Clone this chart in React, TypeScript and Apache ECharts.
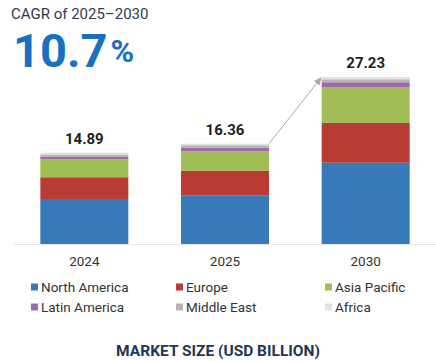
import React, { useEffect, useRef } from "react";
import * as echarts from "echarts";

const years = ["2024", "2025", "2030"];
const northAmerica = [7.32, 7.86, 13.23];
const europe = [3.58, 4.07, 6.51];
const asiaPacific = [2.93, 3.21, 5.76];
const latinAmerica = [0.37, 0.6, 0.86];
const middleEast = [0.4, 0.38, 0.5];
const africa = [0.29, 0.24, 0.37];
const totals = [14.89, 16.36, 27.23];

const seriesDefs = [
  { name: "North America", data: northAmerica, color: "#3779b9" },
  { name: "Europe", data: europe, color: "#b83c33" },
  { name: "Asia Pacific", data: asiaPacific, color: "#a0bd56" },
  { name: "Latin America", data: latinAmerica, color: "#a267ad" },
  { name: "Middle East", data: middleEast, color: "#b5b5b5" },
  { name: "Africa", data: africa, color: "#e2e2e2" },
];

const BAR_W = 88;
const FONT = "Roboto, 'Noto Sans', sans-serif";

export default function App() {
  const ref = useRef<HTMLDivElement>(null);
  useEffect(() => {
    if (!ref.current) return;
    const chart = echarts.init(ref.current, null, { renderer: "svg" });
    const legendBase = {
      orient: "vertical" as const,
      icon: "rect",
      itemWidth: 7,
      itemHeight: 7,
      itemGap: 6,
      padding: 0,
      top: 280,
      selectedMode: false,
      textStyle: { fontSize: 13.5, color: "#333", fontFamily: FONT, lineHeight: 14, padding: [0, 0, 0, -2] },
    };
    chart.setOption({
      animation: false,
      textStyle: { fontFamily: FONT },
      title: [
        {
          text: "CAGR of 2025–2030",
          left: 11,
          top: 6,
          padding: 0,
          textStyle: { fontSize: 15, fontWeight: "normal", color: "#2e3b50", fontFamily: FONT },
        },
        {
          text: "{a|10.7}{b|%}",
          left: 13,
          top: 27,
          padding: 0,
          textStyle: {
            rich: {
              a: { fontSize: 47, fontWeight: "bold", color: "#1a6fc1", fontFamily: FONT },
              b: { fontSize: 32, fontWeight: "bold", color: "#1a6fc1", fontFamily: FONT, padding: [0, 0, 0, 3] },
            },
          },
        },
        {
          text: "MARKET SIZE (USD BILLION)",
          left: "center",
          top: 343,
          padding: 0,
          textStyle: { fontSize: 15.5, fontWeight: "bold", color: "#1f3655", fontFamily: FONT },
        },
      ],
      legend: [
        { ...legendBase, left: 31, data: ["North America", "Latin America"] },
        { ...legendBase, left: 176, data: ["Europe", "Middle East"] },
        { ...legendBase, left: 325, data: ["Asia Pacific", "Africa"] },
      ],
      grid: { left: 14, right: 0, top: 60, bottom: 117 },
      xAxis: {
        type: "category",
        data: years,
        axisLine: { lineStyle: { color: "#e3e3e3", width: 1 } },
        axisTick: { show: false },
        axisLabel: { fontSize: 13.5, color: "#333", margin: 10, fontFamily: FONT },
      },
      yAxis: { type: "value", min: 0, max: 30, show: false, splitLine: { show: false } },
      series: seriesDefs.map((s, i) => ({
        name: s.name,
        type: "bar",
        stack: "total",
        barWidth: BAR_W,
        data: s.data,
        itemStyle: { color: s.color },
        emphasis: { disabled: true },
        label:
          i === seriesDefs.length - 1
            ? {
                show: true,
                position: "top",
                distance: 6,
                formatter: (p: any) => totals[p.dataIndex].toFixed(2),
                fontSize: 15,
                fontWeight: "bold",
                color: "#1e1e1e",
                fontFamily: FONT,
              }
            : { show: false },
      })),
    });

    const a = chart.convertToPixel({ xAxisIndex: 0, yAxisIndex: 0 }, [years[1], totals[1]]) as number[];
    const b = chart.convertToPixel({ xAxisIndex: 0, yAxisIndex: 0 }, [years[2], totals[2]]) as number[];
    const sx = a[0] + BAR_W / 2;
    const sy = a[1];
    const ex = b[0] - BAR_W / 2;
    const ey = b[1];
    const dx = ex - sx;
    const dy = ey - sy;
    const len = Math.sqrt(dx * dx + dy * dy);
    const ux = dx / len;
    const uy = dy / len;
    const hl = 8;
    const hw = 3.5;
    const bx = ex - ux * hl;
    const by = ey - uy * hl;
    chart.setOption({
      graphic: [
        {
          type: "line",
          shape: { x1: sx, y1: sy, x2: bx, y2: by },
          style: { stroke: "#a8a8a8", lineWidth: 1 },
          silent: true,
        },
        {
          type: "polygon",
          shape: {
            points: [
              [ex, ey],
              [bx - uy * hw, by + ux * hw],
              [bx + uy * hw, by - ux * hw],
            ],
          },
          style: { fill: "#a8a8a8" },
          silent: true,
        },
      ],
    });

    return () => chart.dispose();
  }, []);
  return <div ref={ref} style={{ width: 436, height: 361, position: "absolute", left: 0, top: 0 }} />;
}
